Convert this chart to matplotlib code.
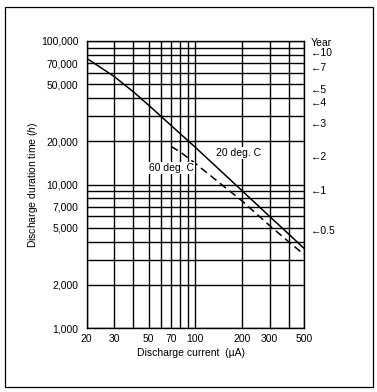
import matplotlib
matplotlib.use("Agg")
import matplotlib.pyplot as plt
from matplotlib.patches import Rectangle

plt.rcParams['font.family'] = ['Liberation Sans', 'DejaVu Sans']
plt.rcParams['mathtext.fontset'] = 'custom'
plt.rcParams['mathtext.it'] = 'Liberation Sans:italic'
plt.rcParams['mathtext.rm'] = 'Liberation Sans'

# ---- data ----
current_20c = [20, 30, 40, 50, 60, 70, 80, 90, 100, 200, 300, 400, 500]
hours_20c = [75750, 56650, 44170, 35750, 29920, 25720, 22560, 20130, 18160, 9040, 6000, 4500, 3590]

current_60c = [70, 80, 90, 100, 200, 300, 400, 500]
hours_60c = [18400, 16840, 15300, 14010, 7670, 5180, 3975, 3250]

x_grid = [20, 30, 40, 50, 60, 70, 80, 90, 100, 200, 300, 400, 500]
y_grid = [1000, 2000, 3000, 4000, 5000, 6000, 7000, 8000, 9000, 10000,
          20000, 30000, 40000, 50000, 60000, 70000, 80000, 90000, 100000]

x_ticks = [20, 30, 50, 70, 100, 200, 300, 500]
x_ticklabels = ['20', '30', '50', '70', '100', '200', '300', '500']
y_ticks = [1000, 2000, 5000, 7000, 10000, 20000, 50000, 70000, 100000]
y_ticklabels = ['1,000', '2,000', '5,000', '7,000', '10,000', '20,000',
                '50,000', '70,000', '100,000']

year_labels = ['10', '7', '5', '4', '3', '2', '1', '0.5']
year_label_pos = [0.957, 0.905, 0.829, 0.783, 0.710, 0.595, 0.477, 0.339]

# ---- figure ----
fig = plt.figure(figsize=(3.77, 3.92), dpi=100)
ax = fig.add_axes([86.7/377, 1 - 328/392, (304 - 86.7)/377, (328 - 41)/392])
ax.set_xscale('log')
ax.set_yscale('log')
ax.set_xlim(20, 500)
ax.set_ylim(1000, 100000)

for xv in x_grid:
    ax.axvline(xv, color='black', lw=1.0, zorder=1)
for yv in y_grid:
    ax.axhline(yv, color='black', lw=1.0, zorder=1)

ax.plot(current_20c, hours_20c, color='black', lw=1.1, zorder=3)
ax.plot(current_60c, hours_60c, color='black', lw=1.1, dashes=(5, 3), zorder=3)

ax.text(70, 12970, '60 deg. C', ha='center', va='center', fontsize=7.5,
        bbox=dict(facecolor='white', edgecolor='none', pad=0.6), zorder=4)
ax.text(191, 16500, '20 deg. C', ha='center', va='center', fontsize=7.5,
        bbox=dict(facecolor='white', edgecolor='none', pad=0.6), zorder=4)

ax.set_xticks(x_ticks)
ax.set_xticklabels(x_ticklabels)
ax.set_yticks(y_ticks)
ax.set_yticklabels(y_ticklabels)
ax.minorticks_off()
ax.tick_params(axis='both', length=0, labelsize=7.5)
ax.tick_params(axis='x', pad=4)
ax.tick_params(axis='y', pad=6)
for s in ax.spines.values():
    s.set_linewidth(1.0)

ax.text(0.48, -0.087, 'Discharge current  (µA)', transform=ax.transAxes,
        ha='center', va='center', fontsize=7.5)
ax.text(-0.247, 0.5, 'Discharge duration time ($\\mathit{h}$)', transform=ax.transAxes,
        ha='center', va='center', rotation=90, fontsize=7.5)

# year scale on the right
ax.text(1.03, 0.994, 'Year', transform=ax.transAxes, ha='left', va='center', fontsize=7.5)
for lab, pos in zip(year_labels, year_label_pos):
    ax.text(1.03, pos, '\u2190' + lab, transform=ax.transAxes, ha='left', va='center',
            fontsize=7.5, family=['Liberation Sans', 'DejaVu Sans'])

# outer frame
fig.patches.append(Rectangle((5/377, 1 - 387/392), 367.7/377, 380.3/392,
                             transform=fig.transFigure, fill=False,
                             edgecolor='black', lw=0.9))

fig.savefig('out.png', dpi=100, facecolor='white')
